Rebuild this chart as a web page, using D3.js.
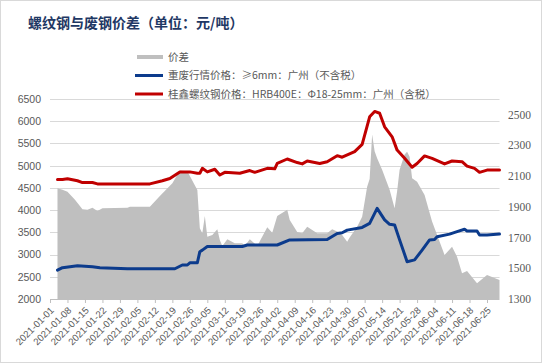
<!DOCTYPE html>
<html>
<head>
<meta charset="utf-8">
<script src="https://cdnjs.cloudflare.com/ajax/libs/d3/7.8.5/d3.min.js"></script>
<style>
  html, body { margin: 0; padding: 0; background: #fff; }
  svg { display: block; }
</style>
</head>
<body>
<div id="chart"></div>
<script>
// ---------- data ----------
const chartTitle = "螺纹钢与废钢价差（单位：元/吨）";
const seriesNames = ["价差", "重废行情价格：≥6mm：广州（不含税）", "桂鑫螺纹钢价格：HRB400E：Φ18-25mm：广州（含税）"];

const xTickLabels = ["2021-01-01","2021-01-08","2021-01-15","2021-01-22","2021-01-29",
  "2021-02-05","2021-02-12","2021-02-19","2021-02-26",
  "2021-03-05","2021-03-12","2021-03-19","2021-03-26",
  "2021-04-02","2021-04-09","2021-04-16","2021-04-23","2021-04-30",
  "2021-05-07","2021-05-14","2021-05-21","2021-05-28",
  "2021-06-04","2021-06-11","2021-06-18","2021-06-25"];
const leftTicks = [2000,2500,3000,3500,4000,4500,5000,5500,6000,6500];
const rightTicks = [1300,1500,1700,1900,2100,2300,2500];

// 价差 (right axis)
const spreadDates = ["2021-01-04","2021-01-06","2021-01-08","2021-01-11","2021-01-14","2021-01-16","2021-01-18","2021-01-20","2021-01-22",
  "2021-02-01","2021-02-02","2021-02-10","2021-02-14","2021-02-19","2021-02-22","2021-02-25",
  "2021-03-01","2021-03-02","2021-03-03","2021-03-04","2021-03-05","2021-03-07","2021-03-09","2021-03-10","2021-03-11","2021-03-13","2021-03-16","2021-03-19","2021-03-20","2021-03-22","2021-03-25","2021-03-29","2021-03-31",
  "2021-04-02","2021-04-06","2021-04-07","2021-04-10","2021-04-12","2021-04-14","2021-04-18","2021-04-22","2021-04-24","2021-04-26","2021-04-28","2021-04-30",
  "2021-05-01","2021-05-04","2021-05-06","2021-05-08","2021-05-09","2021-05-10","2021-05-11","2021-05-12","2021-05-14","2021-05-17","2021-05-19","2021-05-20","2021-05-21","2021-05-23","2021-05-24","2021-05-25","2021-05-26","2021-05-28","2021-05-31",
  "2021-06-03","2021-06-07","2021-06-08","2021-06-11","2021-06-13","2021-06-15","2021-06-17","2021-06-21","2021-06-25","2021-06-30"];
const spreadValues = [2020,2010,1997,1945,1883,1880,1893,1872,1890,
  1893,1900,1900,1970,2052,2135,2130,
  2008,1760,1727,1840,1705,1716,1753,1683,1645,1688,1662,1662,1645,1688,1645,1766,1731,
  1840,1880,1813,1735,1727,1770,1727,1727,1753,1738,1716,1672,
  1700,1770,1835,2030,2080,2370,2260,2215,2140,2010,1890,2000,2140,2240,2257,2225,2085,2062,1976,
  1803,1630,1586,1640,1575,1467,1482,1402,1456,1423];

// 重废行情价格 (left axis)
const scrapDates = ["2021-01-04","2021-01-06","2021-01-12","2021-01-18","2021-01-21","2021-02-01","2021-02-20","2021-02-23","2021-02-25","2021-02-26",
  "2021-03-01","2021-03-02","2021-03-03","2021-03-05","2021-03-19","2021-03-21",
  "2021-04-02","2021-04-07","2021-04-22","2021-04-26","2021-04-28","2021-04-30",
  "2021-05-06","2021-05-09","2021-05-12","2021-05-15","2021-05-17","2021-05-19","2021-05-21","2021-05-24","2021-05-27","2021-05-30",
  "2021-06-02","2021-06-04","2021-06-05","2021-06-10","2021-06-13","2021-06-16","2021-06-17","2021-06-21","2021-06-22","2021-06-25","2021-06-30"];
const scrapValues = [2650,2705,2750,2725,2705,2680,2680,2765,2765,2815,
  2815,3065,3100,3180,3180,3215,
  3215,3330,3340,3475,3490,3550,
  3610,3700,4040,3780,3680,3665,3330,2840,2880,3100,
  3330,3340,3400,3460,3515,3570,3530,3530,3440,3440,3460];

// 桂鑫螺纹钢价格 (left axis)
const rebarDates = ["2021-01-04","2021-01-06","2021-01-08","2021-01-12","2021-01-14","2021-01-18","2021-01-20",
  "2021-02-10","2021-02-15","2021-02-18","2021-02-22","2021-02-26",
  "2021-03-01","2021-03-02","2021-03-03","2021-03-05","2021-03-08","2021-03-10","2021-03-12","2021-03-18","2021-03-22","2021-03-24","2021-03-29",
  "2021-04-01","2021-04-02","2021-04-06","2021-04-10","2021-04-12","2021-04-14","2021-04-19","2021-04-22","2021-04-26","2021-04-28",
  "2021-05-03","2021-05-06","2021-05-09","2021-05-11","2021-05-13","2021-05-15","2021-05-18","2021-05-20","2021-05-23","2021-05-26","2021-05-28","2021-05-31",
  "2021-06-03","2021-06-08","2021-06-11","2021-06-15","2021-06-17","2021-06-20","2021-06-22","2021-06-25","2021-06-30"];
const rebarValues = [4690,4690,4705,4660,4620,4620,4590,
  4590,4660,4710,4860,4860,
  4830,4830,4940,4860,4920,4790,4850,4830,4890,4850,4940,
  4930,5050,5150,5070,5040,5105,5050,5090,5225,5190,
  5315,5480,6100,6220,6180,5875,5650,5350,5165,4965,5050,5220,
  5165,5040,5105,5090,4990,4940,4850,4900,4900];

// ---------- layout ----------
const W = 542, H = 363;
const plot = { left: 50, right: 499.5, top: 99, bottom: 299 };
const parse = d3.timeParse("%Y-%m-%d");

const svg = d3.select("#chart").append("svg").attr("width", W).attr("height", H);
svg.append("rect").attr("x", 0.5).attr("y", 0.5).attr("width", W - 1).attr("height", H - 1)
  .attr("fill", "#fff").attr("stroke", "#D9D9D9");

const x = d3.scaleTime().domain([parse("2021-01-01"), parse("2021-06-30")]).range([plot.left, plot.right]);
const yL = d3.scaleLinear().domain([2000, 6500]).range([plot.bottom, plot.top]);
const yR = d3.scaleLinear().domain([1300, 2600]).range([plot.bottom, plot.top]);

// gridlines
svg.append("g").selectAll("line").data(leftTicks.slice(1)).join("line")
  .attr("x1", plot.left).attr("x2", plot.right)
  .attr("y1", d => Math.round(yL(d)) + 0.5).attr("y2", d => Math.round(yL(d)) + 0.5)
  .attr("stroke", "#D9D9D9").attr("stroke-width", 1);

// area
const spread = spreadDates.map((d, i) => ({ d: parse(d), v: spreadValues[i] }));
svg.append("path").datum(spread)
  .attr("d", d3.area().x(p => x(p.d)).y0(yR(1300)).y1(p => yR(p.v)))
  .attr("fill", "#BFBFBF");

// bottom axis
const xAxis = d3.axisBottom(x).tickValues(xTickLabels.map(parse)).tickSize(4).tickFormat(d3.timeFormat("%Y-%m-%d"));
const gx = svg.append("g").attr("transform", `translate(0,${plot.bottom})`).call(xAxis);
gx.select(".domain").attr("stroke", "#BFBFBF").attr("d", `M${plot.left},0.5H${plot.right}`);
gx.selectAll(".tick line").attr("stroke", "#BFBFBF");
gx.selectAll(".tick text")
  .attr("font-family", "Liberation Sans, Arial, sans-serif").attr("font-size", "9.6px").attr("fill", "#595959")
  .attr("text-anchor", "end").attr("dy", null).attr("y", 0)
  .attr("transform", "translate(4,12) rotate(-45)");

// left axis labels
const yAxisL = d3.axisLeft(yL).tickValues(leftTicks).tickSize(0).tickPadding(0).tickFormat(d3.format("d"));
const gl = svg.append("g").attr("transform", `translate(41,0)`).call(yAxisL);
gl.select(".domain").remove();
gl.selectAll("text").attr("font-family", "Liberation Sans, Arial, sans-serif").attr("font-size", "10.5px").attr("fill", "#595959");

// right axis labels
const yAxisR = d3.axisRight(yR).tickValues(rightTicks).tickSize(0).tickPadding(0).tickFormat(d3.format("d"));
const gr = svg.append("g").attr("transform", `translate(508,0)`).call(yAxisR);
gr.select(".domain").remove();
gr.selectAll("text").attr("font-family", "Liberation Serif, Times New Roman, serif").attr("font-size", "11.5px").attr("fill", "#595959");

// lines
const line = d3.line().x(p => x(p.d)).y(p => yL(p.v)).curve(d3.curveLinear);
const scrap = scrapDates.map((d, i) => ({ d: parse(d), v: scrapValues[i] }));
const rebar = rebarDates.map((d, i) => ({ d: parse(d), v: rebarValues[i] }));
svg.append("path").datum(scrap).attr("d", line).attr("fill", "none")
  .attr("stroke", "#0C3B8C").attr("stroke-width", 3).attr("stroke-linejoin", "round").attr("stroke-linecap", "round");
svg.append("path").datum(rebar).attr("d", line).attr("fill", "none")
  .attr("stroke", "#C00000").attr("stroke-width", 3).attr("stroke-linejoin", "round").attr("stroke-linecap", "round");

// title
svg.append("text").attr("x", 28).attr("y", 28).text(chartTitle)
  .attr("font-family", "Noto Sans CJK SC, sans-serif").attr("font-size", "14px").attr("font-weight", "bold")
  .attr("fill", "#1F3864");

// legend
const legend = svg.append("g").attr("font-family", "Noto Sans CJK SC, sans-serif").attr("font-size", "10.5px").attr("fill", "#595959");
const legendRows = [
  { name: seriesNames[0], color: "#BFBFBF", y: 57, x1: 137, w: 4 },
  { name: seriesNames[1], color: "#0C3B8C", y: 75.5, x1: 135, w: 3 },
  { name: seriesNames[2], color: "#C00000", y: 94, x1: 135, w: 3 }
];
legendRows.forEach(r => {
  legend.append("line").attr("x1", r.x1).attr("x2", 163).attr("y1", r.y).attr("y2", r.y)
    .attr("stroke", r.color).attr("stroke-width", r.w);
  legend.append("text").attr("x", 168).attr("y", r.y + 3.8).text(r.name);
});
</script>
</body>
</html>
